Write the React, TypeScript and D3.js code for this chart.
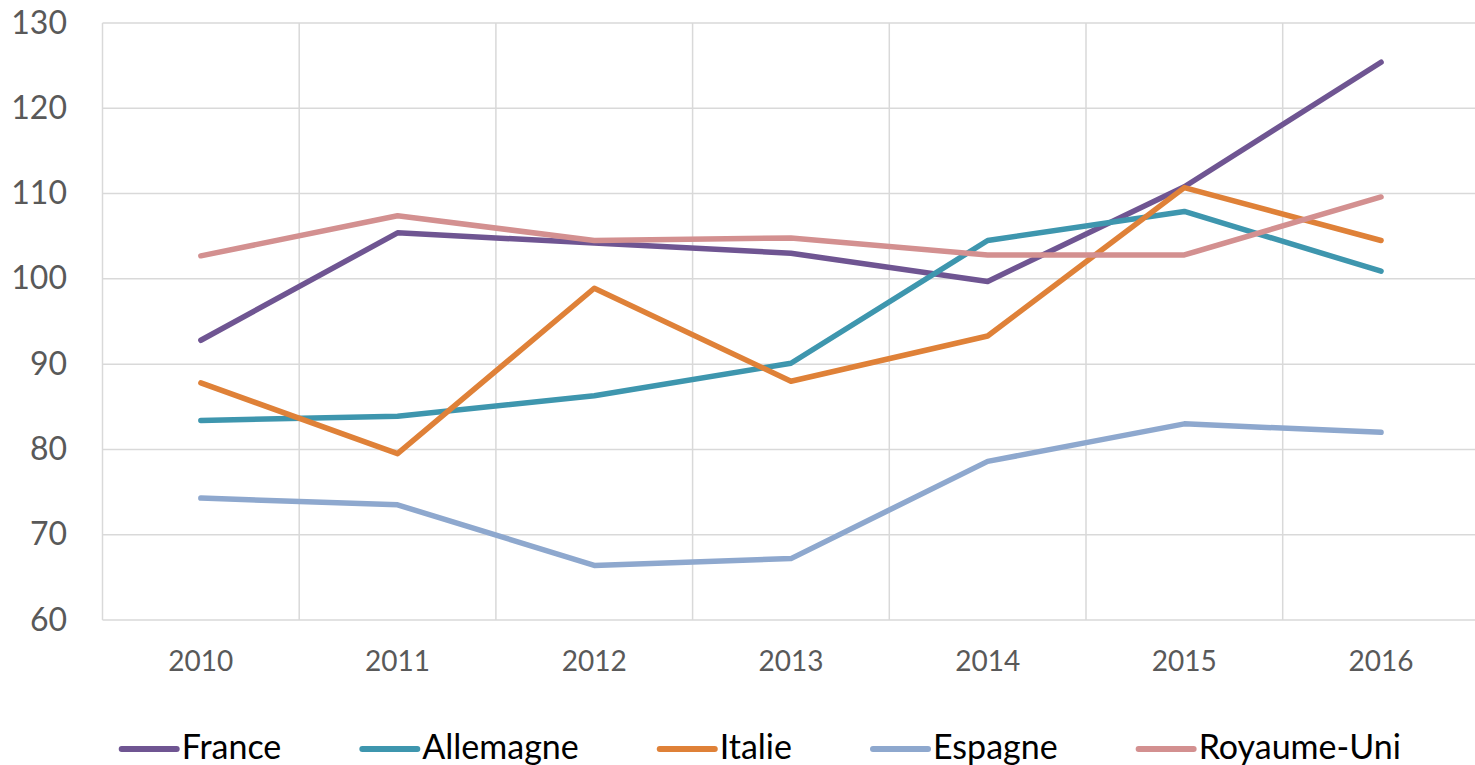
import React, { useEffect, useRef } from "react";
import * as d3 from "d3";

const years = ["2010", "2011", "2012", "2013", "2014", "2015", "2016"];
const yTicks = [60, 70, 80, 90, 100, 110, 120, 130];

const france = [92.8, 105.4, 104.2, 103.0, 99.7, 110.8, 125.4];
const allemagne = [83.4, 83.9, 86.3, 90.1, 104.5, 107.9, 100.9];
const italie = [87.8, 79.5, 98.9, 88.0, 93.3, 110.7, 104.5];
const espagne = [74.3, 73.5, 66.4, 67.2, 78.6, 83.0, 82.0];
const royaumeUni = [102.7, 107.4, 104.5, 104.8, 102.8, 102.8, 109.6];

const seriesNames = ["France", "Allemagne", "Italie", "Espagne", "Royaume-Uni"];
const seriesValues = [france, allemagne, italie, espagne, royaumeUni];
const seriesColors = ["#6F5592", "#3E96AE", "#DF8138", "#8EA8CE", "#D39090"];

const W = 1475;
const H = 765;

export default function App() {
  const ref = useRef<SVGSVGElement | null>(null);

  useEffect(() => {
    document.body.style.margin = "0";
    const svg = d3.select(ref.current);
    svg.selectAll("*").remove();

    const left = 102.5;
    const band = 196.7;
    const right = left + band * years.length;
    const top = 23;
    const bottom = 620;

    const x = d3.scaleBand<string>().domain(years).range([left, right]).padding(0);
    const y = d3.scaleLinear().domain([60, 130]).range([bottom, top]);
    const cx = (yr: string) => (x(yr) as number) + x.bandwidth() / 2;

    const font = "Lato, 'Open Sans', sans-serif";
    const grid = svg.append("g");
    grid
      .selectAll("line.h")
      .data(yTicks)
      .enter()
      .append("line")
      .attr("x1", left)
      .attr("x2", right)
      .attr("y1", (d) => y(d))
      .attr("y2", (d) => y(d))
      .attr("stroke", "#D9D9D9")
      .attr("stroke-width", 1.5);
    const vLines = years.map((yr) => x(yr) as number).concat([right]);
    grid
      .selectAll("line.v")
      .data(vLines)
      .enter()
      .append("line")
      .attr("x1", (d) => d)
      .attr("x2", (d) => d)
      .attr("y1", top)
      .attr("y2", bottom)
      .attr("stroke", "#D9D9D9")
      .attr("stroke-width", 1.5);

    svg
      .append("g")
      .selectAll("text")
      .data(yTicks)
      .enter()
      .append("text")
      .attr("x", 67)
      .attr("y", (d) => y(d) + 10.5)
      .attr("text-anchor", "end")
      .attr("font-family", font)
      .attr("font-size", 32)
      .attr("fill", "#595959")
      .text((d) => String(d));

    svg
      .append("g")
      .selectAll("text")
      .data(years)
      .enter()
      .append("text")
      .attr("x", (d) => cx(d))
      .attr("y", 671)
      .attr("text-anchor", "middle")
      .attr("font-family", font)
      .attr("font-size", 28)
      .attr("fill", "#595959")
      .text((d) => d);

    const line = d3
      .line<number>()
      .x((_, i) => cx(years[i]))
      .y((d) => y(d));
    svg
      .append("g")
      .selectAll("path")
      .data(seriesValues)
      .enter()
      .append("path")
      .attr("d", (d) => line(d) as string)
      .attr("fill", "none")
      .attr("stroke", (_, i) => seriesColors[i])
      .attr("stroke-width", 5.5)
      .attr("stroke-linecap", "round")
      .attr("stroke-linejoin", "round");

    const lg = svg.append("g");
    let lx = 121.7;
    const ly = 749;
    seriesNames.forEach((name, i) => {
      lg.append("line")
        .attr("x1", lx)
        .attr("x2", lx + 55)
        .attr("y1", ly)
        .attr("y2", ly)
        .attr("stroke", seriesColors[i])
        .attr("stroke-width", 6)
        .attr("stroke-linecap", "round");
      const t = lg
        .append("text")
        .attr("x", lx + 60)
        .attr("y", 759)
        .attr("font-family", font)
        .attr("font-size", 34)
        .attr("fill", "#000000")
        .text(name);
      const w = (t.node() as SVGTextElement).getComputedTextLength();
      lx = lx + 60 + w + 81;
    });
  }, []);

  return (
    <svg
      ref={ref}
      width={W}
      height={H}
      style={{ display: "block", position: "absolute", left: 0, top: 0 }}
    />
  );
}
